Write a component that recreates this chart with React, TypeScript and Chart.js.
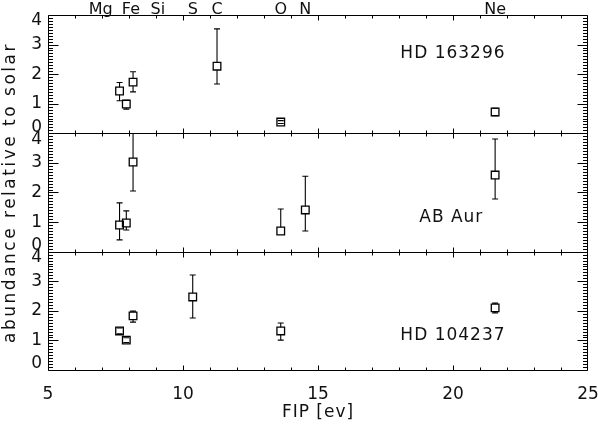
import React, { useEffect, useRef } from 'react';
import { Chart, registerables } from 'chart.js';

Chart.register(...registerables);

// ---------- data ----------
const ELEMENTS = ['Mg', 'Fe', 'Si', 'S', 'C', 'O', 'N', 'Ne'];
const FIP = [7.65, 7.9, 8.15, 10.36, 11.26, 13.62, 14.53, 21.56];
const ELEMENT_LABEL_X = [6.95, 8.07, 9.07, 10.36, 11.26, 13.62, 14.53, 21.56];

const STAR_NAMES = ['HD 163296', 'AB Aur', 'HD 104237'];

const HD163296_VAL = [1.43, 0.99, 1.73, null, 2.27, 0.38, null, 0.72];
const HD163296_LO = [1.1, 0.82, 1.4, null, 1.67, 0.33, null, 0.6];
const HD163296_HI = [1.72, 1.12, 2.08, null, 3.53, 0.43, null, 0.85];

const ABAUR_VAL = [0.9, 0.97, 3.03, null, null, 0.7, 1.41, 2.59];
const ABAUR_LO = [0.4, 0.73, 2.05, null, null, 0.7, 0.7, 1.78];
const ABAUR_HI = [1.65, 1.38, 4.4, null, null, 1.44, 2.55, 3.81];

const HD104237_VAL = [1.32, 1.01, 1.83, 2.47, null, 1.32, null, 2.1];
const HD104237_LO = [1.22, 0.93, 1.62, 1.76, null, 1.01, null, 1.93];
const HD104237_HI = [1.42, 1.09, 1.99, 3.21, null, 1.59, null, 2.26];

const STAR_LABEL_X = [18.05, 18.75, 18.05];
const STAR_LABEL_Y = [2.69, 1.15, 1.18];

const X_MIN = 5;
const X_MAX = 25;
const X_TICKS = [5, 10, 15, 20, 25];
const Y_MIN = 0;
const Y_MAX = 4;
const Y_TICKS = [0, 1, 2, 3, 4];

const X_TITLE = 'FIP [ev]';
const Y_TITLE = 'abundance relative to solar';

const PANEL_IDS = ['yTop', 'yMid', 'yBot'];
const PANEL_VAL = [HD163296_VAL, ABAUR_VAL, HD104237_VAL];
const PANEL_LO = [HD163296_LO, ABAUR_LO, HD104237_LO];
const PANEL_HI = [HD163296_HI, ABAUR_HI, HD104237_HI];

const FONT = '"DejaVu Sans", sans-serif';
const INK = '#111';

export default function App() {
  const ref = useRef<HTMLCanvasElement | null>(null);

  useEffect(() => {
    if (!ref.current) return;

    const datasets = PANEL_IDS.map((id, p) => ({
      label: STAR_NAMES[p],
      yAxisID: id,
      data: FIP.map((x, i) => (PANEL_VAL[p][i] == null ? null : { x, y: PANEL_VAL[p][i] as number })).filter(
        (d) => d !== null
      ) as { x: number; y: number }[],
      pointStyle: 'rect',
      pointRadius: 5.4,
      pointHoverRadius: 5.4,
      borderColor: '#000',
      backgroundColor: 'rgba(0,0,0,0)',
      borderWidth: 1.3,
      showLine: false,
    }));

    const zeroW = (s: any) => {
      s.width = 0;
    };

    const yScale = (weight: number) => ({
      type: 'linear' as const,
      position: 'left' as const,
      stack: 'panels',
      stackWeight: weight,
      min: Y_MIN,
      max: Y_MAX,
      grid: { display: false },
      border: { display: false },
      ticks: { display: false },
      afterFit: zeroW,
    });

    const framePlugin = {
      id: 'framePlugin',
      afterDatasetsDraw(chart: any) {
        const ctx = chart.ctx as CanvasRenderingContext2D;
        const xs = chart.scales.x;
        const area = chart.chartArea;
        // error bars
        PANEL_IDS.forEach((id, p) => {
          const ys = chart.scales[id];
          ctx.save();
          ctx.beginPath();
          ctx.rect(area.left, ys.top, area.right - area.left, ys.bottom - ys.top);
          ctx.clip();
          ctx.strokeStyle = '#000';
          ctx.lineWidth = 1.1;
          const half = 3.8;
          const cap = 3;
          FIP.forEach((fx, i) => {
            const v = PANEL_VAL[p][i];
            if (v == null) return;
            const px = xs.getPixelForValue(fx);
            const py = ys.getPixelForValue(v);
            const hi = ys.getPixelForValue(PANEL_HI[p][i] as number);
            const lo = ys.getPixelForValue(PANEL_LO[p][i] as number);
            ctx.beginPath();
            if ((PANEL_HI[p][i] as number) > v) {
              if (hi < py - half) {
                ctx.moveTo(px, py - half);
                ctx.lineTo(px, hi);
              }
              ctx.moveTo(px - cap, hi);
              ctx.lineTo(px + cap, hi);
            }
            if ((PANEL_LO[p][i] as number) < v) {
              if (lo > py + half) {
                ctx.moveTo(px, py + half);
                ctx.lineTo(px, lo);
              }
              ctx.moveTo(px - cap, lo);
              ctx.lineTo(px + cap, lo);
            }
            ctx.stroke();
          });
          ctx.restore();
        });

        // frames and ticks
        ctx.save();
        ctx.strokeStyle = '#000';
        ctx.lineWidth = 1;
        const L = Math.round(area.left) + 0.5;
        const R = Math.round(area.right) - 0.5;
        PANEL_IDS.forEach((id) => {
          const ys = chart.scales[id];
          const T = Math.round(ys.top) + 0.5;
          const B = Math.round(ys.bottom) + 0.5;
          ctx.beginPath();
          ctx.moveTo(L, T);
          ctx.lineTo(R, T);
          ctx.lineTo(R, B);
          ctx.lineTo(L, B);
          ctx.closePath();
          // x ticks (inner ones; the ends coincide with the frame)
          for (let v = X_MIN + 1; v < X_MAX; v += 1) {
            const px = Math.round(xs.getPixelForValue(v)) + 0.5;
            const len = v % 5 === 0 ? 5 : 3;
            ctx.moveTo(px, B);
            ctx.lineTo(px, B - len);
            ctx.moveTo(px, T);
            ctx.lineTo(px, T + len);
          }
          // y ticks
          for (let k = 0; k <= 40; k++) {
            const v = Y_MIN + k * 0.1;
            const py = Math.round(ys.getPixelForValue(v)) + 0.5;
            const len = k % 10 === 0 ? 10 : 4.5;
            ctx.moveTo(L, py);
            ctx.lineTo(L + len, py);
            ctx.moveTo(R, py);
            ctx.lineTo(R - len, py);
          }
          ctx.stroke();
        });
        ctx.restore();

        // texts
        ctx.save();
        ctx.fillStyle = INK;
        // y tick labels
        ctx.font = `17px ${FONT}`;
        ctx.textAlign = 'right';
        ctx.textBaseline = 'middle';
        PANEL_IDS.forEach((id) => {
          const ys = chart.scales[id];
          Y_TICKS.forEach((v) => {
            let py = ys.getPixelForValue(v);
            if (v === Y_MAX) py += 6;
            if (v === Y_MIN) py -= 6;
            ctx.fillText(String(v), area.left - 6, py);
          });
        });
        // x tick labels
        ctx.textAlign = 'center';
        ctx.textBaseline = 'alphabetic';
        const bottomScale = chart.scales[PANEL_IDS[2]];
        X_TICKS.forEach((v) => {
          ctx.fillText(String(v), xs.getPixelForValue(v), bottomScale.bottom + 29);
        });
        // x title
        (ctx as any).letterSpacing = '1px';
        ctx.fillText(X_TITLE, (area.left + area.right) / 2, bottomScale.bottom + 47);
        // element labels
        ctx.font = `16px ${FONT}`;
        (ctx as any).letterSpacing = '0px';
        const topScale = chart.scales[PANEL_IDS[0]];
        ELEMENTS.forEach((el, i) => {
          ctx.fillText(el, xs.getPixelForValue(ELEMENT_LABEL_X[i]), topScale.top - 1);
        });
        // star labels
        ctx.font = `17px ${FONT}`;
        (ctx as any).letterSpacing = '1px';
        ctx.textAlign = 'left';
        ctx.textBaseline = 'middle';
        PANEL_IDS.forEach((id, p) => {
          const ys = chart.scales[id];
          ctx.fillText(STAR_NAMES[p], xs.getPixelForValue(STAR_LABEL_X[p]), ys.getPixelForValue(STAR_LABEL_Y[p]));
        });
        // y title
        ctx.font = `17px ${FONT}`;
        (ctx as any).letterSpacing = '2.5px';
        ctx.textAlign = 'center';
        ctx.textBaseline = 'alphabetic';
        ctx.translate(15, (topScale.top + bottomScale.bottom) / 2);
        ctx.rotate(-Math.PI / 2);
        ctx.fillText(Y_TITLE, 0, 0);
        ctx.restore();
      },
    };

    const chart = new Chart(ref.current, {
      type: 'scatter',
      data: { datasets: datasets as any },
      options: {
        responsive: false,
        animation: false,
        devicePixelRatio: 1,
        layout: { padding: { left: 48, right: 10, top: 15, bottom: 57 } },
        plugins: { legend: { display: false }, tooltip: { enabled: false } },
        events: [],
        scales: {
          x: {
            type: 'linear',
            min: X_MIN,
            max: X_MAX,
            grid: { display: false },
            border: { display: false },
            ticks: { display: false },
            afterFit: (s: any) => {
              s.height = 0;
            },
          },
          yBot: yScale(1),
          yMid: yScale(1),
          yTop: yScale(1),
        } as any,
      },
      plugins: [framePlugin],
    });

    return () => chart.destroy();
  }, []);

  return (
    <div style={{ position: 'absolute', left: 0, top: 0, width: 598, height: 427, background: '#fff' }}>
      <canvas ref={ref} width={598} height={427} style={{ display: 'block' }} />
    </div>
  );
}
